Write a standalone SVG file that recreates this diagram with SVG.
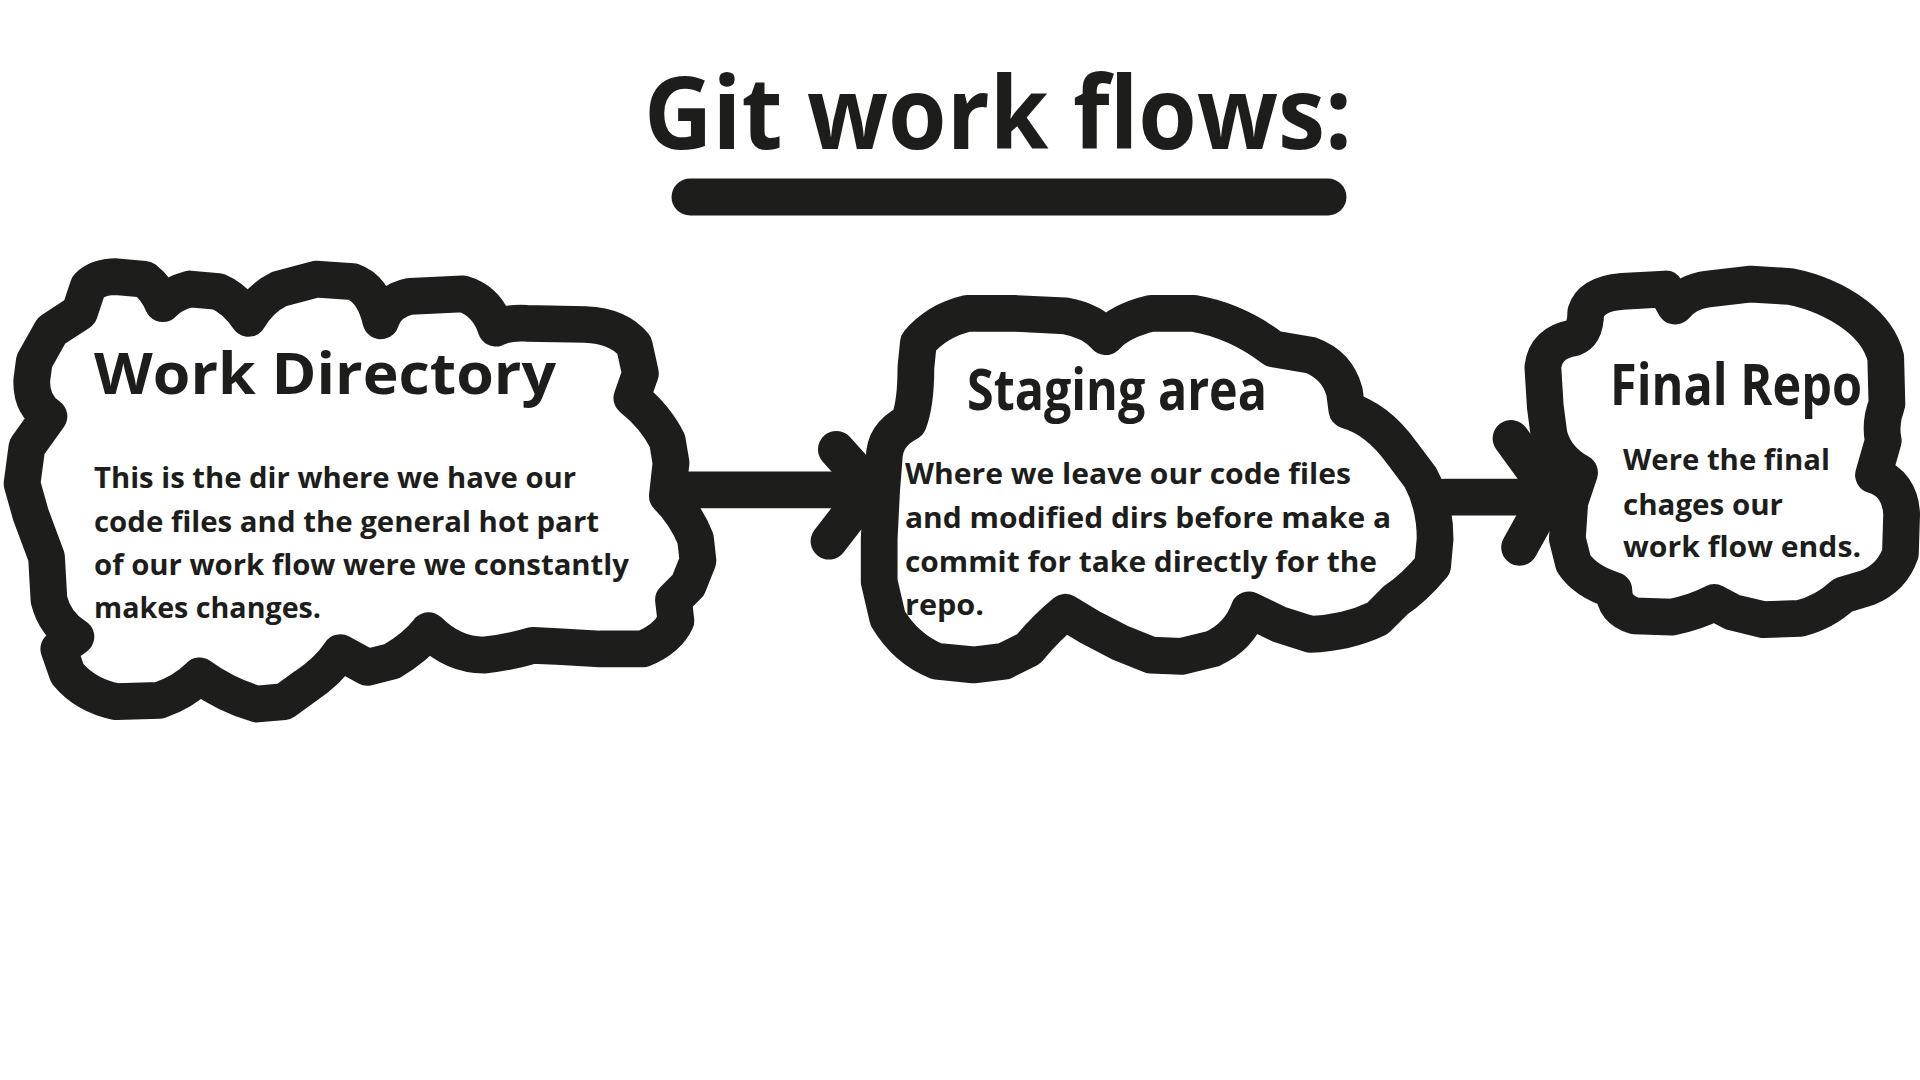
<svg xmlns="http://www.w3.org/2000/svg" width="1920" height="1080" viewBox="0 0 1920 1080">
<style>
.ink{fill:none;stroke:#1d1d1b;stroke-width:30;stroke-linecap:round;stroke-linejoin:round}
.cloud{fill:#ffffff;stroke:#1d1d1b;stroke-width:30;stroke-linecap:round;stroke-linejoin:round}
text{font-family:"Open Sans","Noto Sans","Liberation Sans",sans-serif;font-weight:700;fill:#1d1d1b}
.title{font-size:100px}
.head{font-size:58px}
.body{font-size:28px}
</style>
<rect width="1920" height="1080" fill="#ffffff"/>
<g id="title">
<text class="title" x="644" y="149" textLength="708" lengthAdjust="spacingAndGlyphs">Git work flows:</text>
<line x1="690" y1="197" x2="1328" y2="197" stroke="#1d1d1b" stroke-width="37" stroke-linecap="round"/>
</g>
<g id="connectors" transform="scale(1.22449)">
<g id="arrow1">
<path class="ink" d="M561,400 L711,400"/>
<path class="ink" d="M683,367 L711,398 L677,442"/>
</g>
<g id="arrow2">
<path class="ink" d="M1180,406 L1268,406"/>
<path class="ink" d="M1234,358 L1266,402 L1241,447"/>
</g>
</g>
<g id="node-work-directory">
<path class="cloud" transform="scale(1.22449)" d="M65,255 L72,234 Q80,226 95,226 L118,228 Q128,236 133,248 Q140,240 155,236 L178,238 Q192,244 203,260 Q212,244 228,236 L258,228 L288,230 Q305,236 311,262 Q316,246 335,242 L378,240 Q398,246 405,268 Q415,263 430,264 L478,265 Q505,266 518,282 L523,305 L516,325 Q535,340 545,360 L548,378 L545,405 Q560,420 568,440 L570,458 L562,478 L550,490 L552,507 Q545,522 525,530 L490,530 L455,528 L435,527 Q415,533 395,535 Q370,535 350,515 Q340,528 320,540 L300,545 L278,533 Q268,548 250,560 L232,573 L210,575 Q185,568 163,552 Q150,565 130,572 L95,573 Q70,568 55,550 L48,530 L62,520 Q45,510 40,490 L38,455 L25,420 L18,395 L22,365 L40,340 Q25,330 26,310 L28,295 L42,270 Z"/>
<text class="head" x="94" y="394" textLength="462" lengthAdjust="spacingAndGlyphs">Work Directory</text>
<text class="body" x="94" y="488" textLength="482" lengthAdjust="spacingAndGlyphs">This is the dir where we have our</text>
<text class="body" x="94" y="532" textLength="505" lengthAdjust="spacingAndGlyphs">code files and the general hot part</text>
<text class="body" x="94" y="575" textLength="535" lengthAdjust="spacingAndGlyphs">of our work flow were we constantly</text>
<text class="body" x="94" y="618" textLength="227" lengthAdjust="spacingAndGlyphs">makes changes.</text>
</g>
<g id="node-staging-area">
<path class="cloud" transform="scale(1.22449)" d="M748,300 L750,280 Q765,262 790,256 L830,256 L870,258 Q892,262 903,275 Q915,262 940,256 L975,256 Q1010,262 1040,285 L1070,290 Q1092,298 1098,320 L1100,335 Q1125,342 1145,370 L1160,390 Q1172,412 1172,440 L1170,462 Q1155,480 1140,490 L1125,505 Q1100,517 1070,518 L1045,510 L1020,498 Q1012,520 990,530 L965,536 L940,535 L915,525 L890,512 L870,500 Q855,512 840,530 L820,540 L795,543 L765,540 Q740,530 725,505 L718,475 L718,440 L720,400 L722,375 Q722,355 742,345 Q748,330 748,300 Z"/>
<text class="head" x="967" y="410" textLength="300" lengthAdjust="spacingAndGlyphs">Staging area</text>
<text class="body" x="905" y="484" textLength="446" lengthAdjust="spacingAndGlyphs">Where we leave our code files</text>
<text class="body" x="905" y="528" textLength="486" lengthAdjust="spacingAndGlyphs">and modified dirs before make a</text>
<text class="body" x="905" y="572" textLength="472" lengthAdjust="spacingAndGlyphs">commit for take directly for the</text>
<text class="body" x="905" y="615" textLength="79" lengthAdjust="spacingAndGlyphs">repo.</text>
</g>
<g id="node-final-repo">
<path class="cloud" transform="scale(1.22449)" d="M1262,332 L1260,300 Q1262,280 1285,276 Q1295,272 1295,255 Q1300,240 1325,238 L1360,236 L1368,250 Q1378,238 1395,236 L1430,232 L1462,234 Q1492,240 1515,257 Q1535,272 1540,292 L1541,330 Q1535,345 1538,360 L1530,388 Q1552,395 1553,420 L1552,452 Q1545,472 1525,480 L1505,486 Q1490,500 1470,505 L1440,506 L1415,500 L1400,492 Q1385,500 1365,504 L1335,503 Q1318,498 1318,482 Q1295,475 1285,460 L1280,440 L1282,410 L1290,386 Q1270,375 1265,355 Z"/>
<text class="head" x="1610" y="405" textLength="252" lengthAdjust="spacingAndGlyphs">Final Repo</text>
<text class="body" x="1623" y="470" textLength="207" lengthAdjust="spacingAndGlyphs">Were the final</text>
<text class="body" x="1623" y="515" textLength="160" lengthAdjust="spacingAndGlyphs">chages our</text>
<text class="body" x="1623" y="557" textLength="238" lengthAdjust="spacingAndGlyphs">work flow ends.</text>
</g>
</svg>
